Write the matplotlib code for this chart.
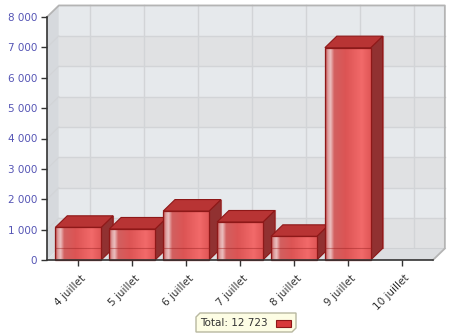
#!/usr/bin/env python3

'''Plot the daily totals as a pseudo-3D bar chart.'''

import numpy as np
import matplotlib
matplotlib.use('Agg')
import matplotlib.pyplot as plt
import matplotlib.transforms as transforms
from matplotlib.colors import LinearSegmentedColormap
from matplotlib.patches import Polygon, Rectangle


DAYS = ['4 juillet', '5 juillet', '6 juillet', '7 juillet',
        '8 juillet', '9 juillet', '10 juillet']
VALUES = [1075, 1020, 1610, 1250, 778, 6990, 0]
Y_TICKS = [0, 1000, 2000, 3000, 4000, 5000, 6000, 7000, 8000]
LEGEND_LABEL = 'Total'

# depth of the fake 3D box, in data units
DX = 0.22
DY = 380
HALF_W = 0.425
XLIM = (-0.58, 6.58)
YMAX = 8000

WALL_LIGHT = '#e6e9ec'
WALL_DARK = '#e0e1e3'
GRID = '#d2d4d7'
AXIS = '#333333'
TICK_BLUE = '#5555b5'

FACE_CMAP = LinearSegmentedColormap.from_list('face', [
    (0.00, '#c03c3c'), (0.06, '#dc9a9a'), (0.12, '#ecc0c0'),
    (0.20, '#d26060'), (0.45, '#dc5454'), (0.80, '#f26a6a'),
    (1.00, '#e05656')])


def poly(axis, pts, **kw):
    '''Add an unclipped polygon in data coordinates.'''
    patch = Polygon(pts, closed=True, clip_on=False, **kw)
    axis.add_patch(patch)
    return patch


def draw_box(axis):
    '''Back wall, left wall and floor.'''
    x0, x1 = XLIM
    for k in range(YMAX // 1000):
        color = WALL_LIGHT if k % 2 else WALL_DARK
        axis.add_patch(Rectangle((x0 + DX, k * 1000 + DY), x1 - x0, 1000,
                                 facecolor=color, edgecolor='none',
                                 clip_on=False, zorder=0))
    for y in Y_TICKS[1:-1]:
        axis.plot([x0 + DX, x1 + DX], [y + DY, y + DY], color=GRID,
                  lw=1, clip_on=False, zorder=0.5)
        axis.plot([x0, x0 + DX], [y, y + DY], color=GRID,
                  lw=0.8, clip_on=False, zorder=0.7)
    for i in range(len(DAYS)):
        axis.plot([i + DX, i + DX], [DY, YMAX + DY], color=GRID,
                  lw=1, clip_on=False, zorder=0.5)
    poly(axis, [(x0, 0), (x0, YMAX), (x0 + DX, YMAX + DY), (x0 + DX, DY)],
         facecolor='#d6d9dd', edgecolor='none', zorder=0.6)
    poly(axis, [(x0, 0), (x0 + DX, DY), (x1 + DX, DY), (x1, 0)],
         facecolor='#dcdee1', edgecolor='none', zorder=0.6)
    axis.plot([x0 + DX, x1 + DX], [DY, DY], color='#cfd1d4', lw=0.8,
              clip_on=False, zorder=0.7)
    axis.plot([x0, x0 + DX, x1 + DX, x1 + DX, x1],
              [YMAX, YMAX + DY, YMAX + DY, DY, 0],
              color='#b4b4b4', lw=1.3, clip_on=False, zorder=0.8)


def draw_bar(axis, i, val):
    '''One red box: side, top, then shaded front.'''
    if val <= 0:
        return
    left, right = i - HALF_W, i + HALF_W
    edge = '#8e1818'
    # back edges seen through the front face
    axis.plot([left + DX, right + DX, right + DX], [DY, DY, val + DY],
              color='#a02020', lw=0.8, alpha=0.6, clip_on=False, zorder=2)
    poly(axis, [(right, 0), (right + DX, DY), (right + DX, val + DY),
                (right, val)],
         facecolor='#913131', edgecolor=edge, lw=0.8, zorder=2)
    poly(axis, [(left, val), (left + DX, val + DY), (right + DX, val + DY),
                (right, val)],
         facecolor='#b83434', edgecolor=edge, lw=0.8, zorder=2)
    front = Rectangle((left, 0), 2 * HALF_W, val, facecolor='none',
                      edgecolor=edge, lw=0.9, clip_on=False, zorder=3.1)
    axis.add_patch(front)
    grad = np.linspace(0, 1, 256).reshape(1, -1)
    img = axis.imshow(grad, cmap=FACE_CMAP, extent=(left, right, 0, val),
                      aspect='auto', origin='lower', zorder=3,
                      interpolation='bilinear')
    img.set_clip_path(front)
    axis.plot([left, right], [DY, DY], color='#9a2020', lw=0.8,
              alpha=0.45, zorder=3.2)


def format_axis(axis, fig):
    '''Ticks, limits and spines.'''
    axis.set_xlim(*XLIM)
    axis.set_ylim(0, YMAX)
    axis.patch.set_visible(False)
    for side in ('top', 'right'):
        axis.spines[side].set_visible(False)
    for side in ('left', 'bottom'):
        axis.spines[side].set_color(AXIS)
        axis.spines[side].set_linewidth(1.2)
        axis.spines[side].set_zorder(4)
    axis.set_yticks(Y_TICKS)
    axis.set_yticklabels([f'{v:,}'.replace(',', ' ') for v in Y_TICKS],
                         color=TICK_BLUE, fontsize=7.5)
    axis.set_xticks(range(len(DAYS)))
    axis.set_xticklabels(DAYS, rotation=45, ha='right', va='center',
                         rotation_mode='anchor', color='#333333',
                         fontsize=7.5)
    axis.tick_params(axis='both', length=4, width=1, color=AXIS)
    axis.tick_params(axis='y', pad=3)
    shift = transforms.ScaledTranslation(6 / 100, -6 / 100,
                                         fig.dpi_scale_trans)
    for label in axis.get_xticklabels():
        label.set_transform(label.get_transform() + shift)


def draw_legend(fig, total):
    '''Small yellow box with the total.'''
    w, h = 450.0, 335.0
    x0, x1, y0, y1, cut = 196, 296, 313, 332, 4
    pts = [(x0 + cut, y0), (x1, y0), (x1, y1 - cut), (x1 - cut, y1),
           (x0, y1), (x0, y0 + cut)]
    fig.add_artist(Polygon([(x / w, 1 - y / h) for x, y in pts],
                           closed=True, transform=fig.transFigure,
                           facecolor='#fdfde4', edgecolor='#b8b8a0',
                           lw=1))
    text = f'{LEGEND_LABEL}: {total:,}'.replace(',', ' ')
    fig.text(200 / w, 1 - 323 / h, text, fontsize=7.5, color='#333333',
             va='center', ha='left')
    fig.add_artist(Rectangle((276 / w, 1 - 327 / h), 15 / w, 7 / h,
                             transform=fig.transFigure,
                             facecolor='#d83a3a', edgecolor='#8e1818',
                             lw=0.8))


def plot_graph():
    '''Build and save the figure.'''
    fig = plt.figure(figsize=(4.5, 3.35), dpi=100)
    axis = fig.add_axes([47 / 450, 75 / 335, 386 / 450, 243 / 335])
    draw_box(axis)
    for i, val in enumerate(VALUES):
        draw_bar(axis, i, val)
    format_axis(axis, fig)
    draw_legend(fig, sum(VALUES))
    fig.savefig('out.png', dpi=100)


if __name__ == '__main__':
    plot_graph()
